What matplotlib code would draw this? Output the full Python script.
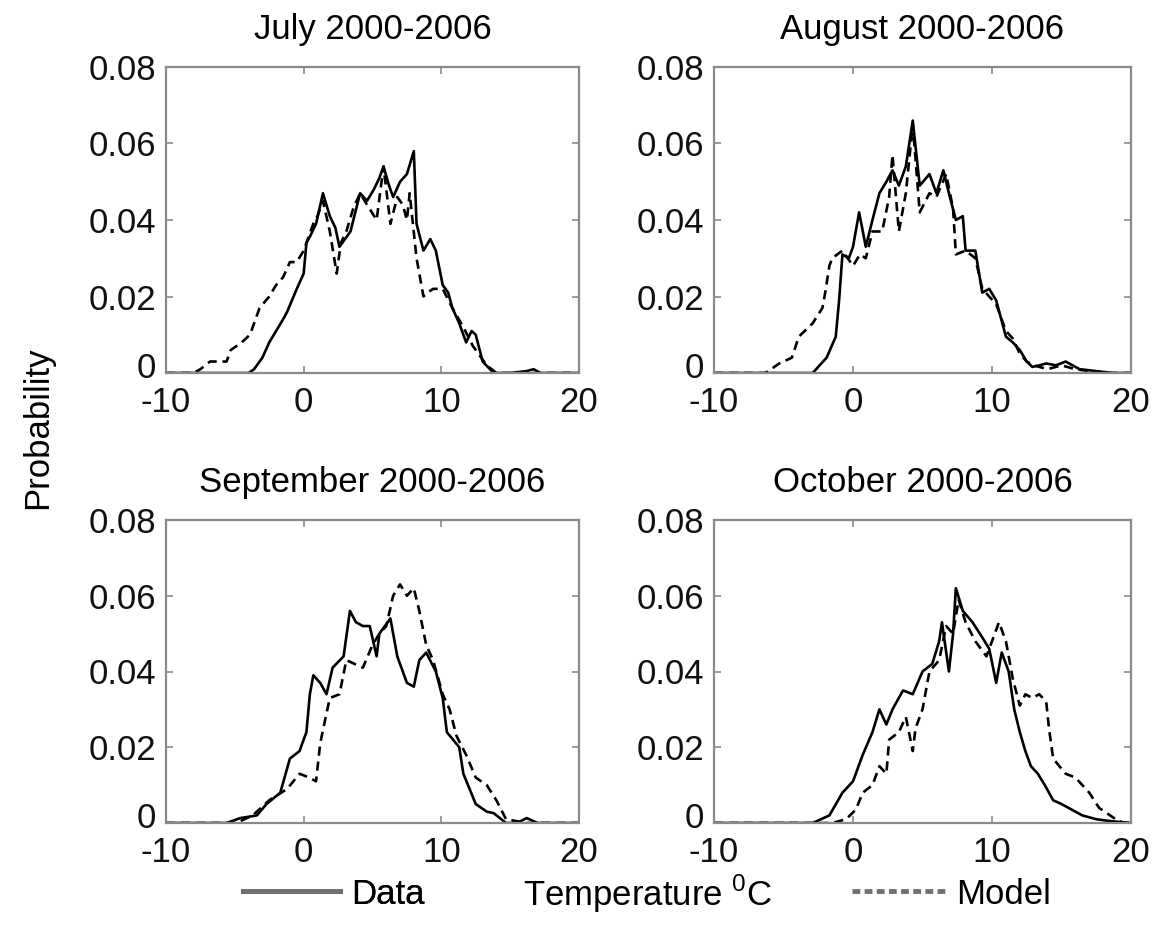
import matplotlib
matplotlib.use('Agg')
import matplotlib.pyplot as plt
from matplotlib.lines import Line2D
from matplotlib.transforms import ScaledTranslation

plt.rcParams['font.family'] = ['Liberation Sans', 'DejaVu Sans']
plt.rcParams['mathtext.fontset'] = 'custom'
plt.rcParams['mathtext.rm'] = 'Liberation Sans'
plt.rcParams['axes.unicode_minus'] = False
plt.rcParams['font.size'] = 25

# ---- values (temperature in C, probability) ----
titles = ['July 2000-2006', 'August 2000-2006',
          'September 2000-2006', 'October 2000-2006']

jul_data_x = [-10, -4, -3.6, -3, -2.5, -2, -1.5, -1.2, -0.5, 0, 0.2, 0.5, 0.9,
              1.4, 1.9, 2.3, 2.6, 3.0, 3.4, 4.1, 4.6, 5.1, 5.5, 5.8, 6.2, 6.5,
              7.0, 7.5, 8.0, 8.2, 8.7, 9.2, 9.6, 10.1, 10.5, 10.8, 11.3, 11.8,
              12.2, 12.5, 13.0, 13.8, 15, 16.2, 16.7, 17.2, 20]
jul_data_y = [0, 0, 0.001, 0.004, 0.008, 0.011, 0.014, 0.016, 0.022, 0.026,
              0.034, 0.036, 0.039, 0.047, 0.041, 0.038, 0.033, 0.035, 0.037,
              0.047, 0.045, 0.048, 0.051, 0.054, 0.049, 0.046, 0.050, 0.052,
              0.058, 0.039, 0.032, 0.035, 0.032, 0.023, 0.021, 0.017, 0.013,
              0.008, 0.011, 0.010, 0.003, 0.0, 0.0, 0.0005, 0.001, 0, 0]
jul_model_x = [-10, -8, -7.5, -6.8, -6.2, -5.6, -5.3, -4.5, -3.9, -3.2, -2.5,
               -2.0, -1.5, -1.0, -0.5, 0, 0.4, 0.7, 1.0, 1.4, 1.9, 2.4, 2.7,
               3.1, 3.6, 4.1, 4.6, 5.3, 5.8, 6.3, 6.8, 7.2, 7.5, 7.7, 8.2, 8.7,
               9.0, 9.4, 10.1, 10.8, 11.6, 12.3, 13.3, 14, 20]
jul_model_y = [0, 0, 0.001, 0.003, 0.003, 0.003, 0.006, 0.008, 0.010, 0.017,
               0.020, 0.023, 0.025, 0.029, 0.029, 0.032, 0.036, 0.039, 0.041,
               0.045, 0.037, 0.026, 0.034, 0.037, 0.043, 0.047, 0.044, 0.040,
               0.054, 0.039, 0.046, 0.044, 0.040, 0.047, 0.030, 0.020, 0.021,
               0.022, 0.022, 0.017, 0.012, 0.007, 0.002, 0, 0]

aug_data_x = [-10, -2.9, -2.4, -1.9, -1.24, -1.0, -0.76, -0.3, 0, 0.44, 0.92,
              1.4, 1.9, 2.4, 2.84, 3.3, 3.8, 4.3, 4.8, 5.5, 6.0, 6.5, 6.9, 7.4,
              7.9, 8.1, 8.8, 9.3, 9.8, 10.3, 11.0, 11.5, 12.0, 12.5, 12.9,
              13.4, 13.9, 14.6, 15.3, 15.8, 16.3, 17.5, 18.7, 20]
aug_data_y = [0, 0, 0.002, 0.004, 0.0095, 0.019, 0.031, 0.030, 0.033, 0.042,
              0.033, 0.040, 0.047, 0.050, 0.053, 0.049, 0.054, 0.066, 0.049,
              0.052, 0.047, 0.053, 0.047, 0.040, 0.041, 0.032, 0.032, 0.021,
              0.022, 0.019, 0.0095, 0.008, 0.006, 0.003, 0.0016, 0.002,
              0.0025, 0.002, 0.003, 0.002, 0.001, 0.0005, 0, 0]
aug_model_x = [-10, -6.3, -5.3, -4.4, -3.9, -2.9, -2.2, -2.0, -1.7, -1.5,
               -0.76, 0, 0.5, 0.92, 1.4, 2.1, 2.6, 2.84, 3.3, 3.8, 4.3, 4.8,
               5.5, 6.0, 6.7, 7.2, 7.4, 8.1, 8.8, 9.3, 9.8, 10.3, 11.0, 11.5,
               12.0, 12.5, 13.0, 14, 15, 16, 17, 18, 20]
aug_model_y = [0, 0, 0.0025, 0.004, 0.0095, 0.013, 0.017, 0.021, 0.028, 0.030,
               0.032, 0.028, 0.031, 0.030, 0.037, 0.037, 0.046, 0.057, 0.037,
               0.047, 0.065, 0.042, 0.047, 0.046, 0.052, 0.043, 0.031, 0.032,
               0.030, 0.022, 0.020, 0.018, 0.011, 0.009, 0.005, 0.003, 0.002,
               0.001, 0.002, 0.001, 0.0005, 0, 0]

sep_data_x = [-10, -5.6, -4.6, -3.4, -2.7, -1.7, -1.0, -0.3, 0.2, 0.45, 0.7,
              1.2, 1.66, 2.1, 2.9, 3.36, 3.8, 4.3, 4.8, 5.3, 5.5, 6.3, 6.8,
              7.5, 8.0, 8.4, 8.9, 9.6, 10.1, 10.4, 11.3, 11.6, 12.5, 13.3,
              13.8, 14.7, 15.5, 16.2, 17, 20]
sep_data_y = [0, 0, 0.0013, 0.002, 0.005, 0.008, 0.017, 0.019, 0.024, 0.034,
              0.039, 0.037, 0.034, 0.041, 0.044, 0.056, 0.053, 0.052, 0.052,
              0.044, 0.050, 0.054, 0.044, 0.037, 0.036, 0.043, 0.045, 0.040,
              0.033, 0.024, 0.020, 0.013, 0.005, 0.003, 0.0026, 0, 0, 0.0013,
              0, 0]
sep_model_x = [-10, -4.9, -3.7, -2.5, -1.2, -0.3, 0.4, 0.9, 1.2, 1.66, 1.9,
               2.6, 3.1, 3.7, 4.3, 5.0, 5.5, 6.0, 6.5, 7.0, 7.5, 8.0, 8.4, 8.9,
               9.4, 10.1, 10.6, 11.1, 11.8, 12.5, 13.3, 14.0, 14.7, 16.2, 20]
sep_model_y = [0, 0, 0.002, 0.006, 0.009, 0.013, 0.012, 0.011, 0.021, 0.029,
               0.033, 0.034, 0.043, 0.042, 0.041, 0.047, 0.050, 0.052, 0.060,
               0.063, 0.060, 0.062, 0.056, 0.047, 0.043, 0.034, 0.030, 0.023,
               0.018, 0.012, 0.010, 0.006, 0.001, 0, 0]

oct_data_x = [-10, -2.9, -1.7, -0.76, 0, 0.7, 1.4, 1.9, 2.4, 2.84, 3.6, 4.3,
              5.0, 5.7, 6.2, 6.4, 6.9, 7.2, 7.4, 7.9, 8.6, 9.3, 9.8, 10.3,
              10.7, 11.2, 11.6, 12.0, 12.4, 12.8, 13.3, 13.8, 14.4, 15.0,
              15.5, 16.0, 16.5, 17.5, 18.5, 20]
oct_data_y = [0, 0, 0.002, 0.008, 0.011, 0.018, 0.024, 0.030, 0.026, 0.030,
              0.035, 0.034, 0.040, 0.042, 0.048, 0.053, 0.040, 0.050, 0.062,
              0.056, 0.053, 0.049, 0.046, 0.037, 0.045, 0.040, 0.030, 0.024,
              0.019, 0.015, 0.013, 0.010, 0.006, 0.005, 0.004, 0.003, 0.002,
              0.001, 0.0005, 0]
oct_model_x = [-10, -1.5, -0.5, 0.2, 0.7, 1.4, 1.9, 2.4, 2.6, 3.3, 3.8, 4.3,
               4.5, 5.0, 5.5, 6.2, 6.7, 7.2, 7.6, 8.1, 8.8, 9.6, 10.0, 10.5,
               11.0, 11.5, 12.0, 12.4, 12.9, 13.4, 13.9, 14.1, 14.4, 15.3,
               16.0, 17.0, 17.7, 18.9, 19.5, 20]
oct_model_y = [0, 0, 0.001, 0.0035, 0.008, 0.010, 0.015, 0.013, 0.022, 0.024,
               0.028, 0.019, 0.025, 0.030, 0.040, 0.043, 0.052, 0.050, 0.059,
               0.053, 0.048, 0.044, 0.048, 0.053, 0.048, 0.038, 0.031, 0.034,
               0.033, 0.034, 0.032, 0.025, 0.017, 0.013, 0.012, 0.008, 0.004,
               0.001, 0, 0]

x_ticks = [-10, 0, 10, 20]
y_ticks = [0, 0.02, 0.04, 0.06, 0.08]
y_tick_labels = ['0', '0.02', '0.04', '0.06', '0.08']


def setup_axes(fig, ax, title):
    ax.set_xlim(-10, 20)
    ax.set_ylim(0, 0.08)
    ax.set_xticks(x_ticks)
    ax.set_yticks(y_ticks)
    ax.set_yticklabels(y_tick_labels)
    ax.set_title(title, fontsize=25, pad=20)
    for sp in ax.spines.values():
        sp.set_color('#8a8a8a')
        sp.set_linewidth(1.6)
    ax.tick_params(direction='in', length=5, width=1.2, color='#8a8a8a',
                   top=True, right=True, labelsize=25, labelcolor='#111111')
    ax.tick_params(axis='x', pad=9.5)
    ax.tick_params(axis='y', pad=7)
    # lift the "0" label a little so it sits clear of the "-10" below it
    lab0 = ax.yaxis.get_major_ticks()[0].label1
    lab0.set_transform(lab0.get_transform() +
                       ScaledTranslation(0, 8 / 100, fig.dpi_scale_trans))


def main():
    W, H = 1159.0, 931.0
    fig = plt.figure(figsize=(W / 100, H / 100), dpi=100)

    # axes boxes in pixels: left, right, top, bottom
    boxes = [(166, 579, 67, 373), (714, 1131, 67, 373),
             (166, 579, 520, 823), (714, 1131, 520, 823)]
    series = [(jul_data_x, jul_data_y, jul_model_x, jul_model_y),
              (aug_data_x, aug_data_y, aug_model_x, aug_model_y),
              (sep_data_x, sep_data_y, sep_model_x, sep_model_y),
              (oct_data_x, oct_data_y, oct_model_x, oct_model_y)]

    for (l, r, t, b), (dx, dy, mx, my), title in zip(boxes, series, titles):
        ax = fig.add_axes([l / W, 1 - b / H, (r - l) / W, (b - t) / H])
        ax.plot(mx, my, color='black', lw=1.9, ls=(0, (3.5, 2.2)))
        ax.plot(dx, dy, color='black', lw=1.9)
        setup_axes(fig, ax, title)

    yleg = 1 - 894 / H
    fig.text(38 / W, 1 - 428 / H, 'Probability', rotation=90,
             ha='center', va='center', fontsize=25)
    fig.text(648 / W, yleg, r'Temperature $^{\mathrm{0}}$C',
             ha='center', va='center', fontsize=25)

    h_data = Line2D([], [], color='#707070', lw=3.5)
    h_model = Line2D([], [], color='#707070', lw=3.5, ls=(0, (1.6, 0.9)))
    leg1 = fig.legend([h_data], ['Data'], loc='center left',
                      bbox_to_anchor=(243 / W, yleg), frameon=False,
                      handlelength=2.8, handletextpad=0.3, borderpad=0,
                      borderaxespad=0, fontsize=25)
    fig.add_artist(leg1)
    fig.legend([h_model], ['Model'], loc='center left',
               bbox_to_anchor=(852 / W, yleg), frameon=False,
               handlelength=2.7, handletextpad=0.3, borderpad=0,
               borderaxespad=0, fontsize=25)

    plt.savefig('out.png', dpi=100)


if __name__ == '__main__':
    main()
